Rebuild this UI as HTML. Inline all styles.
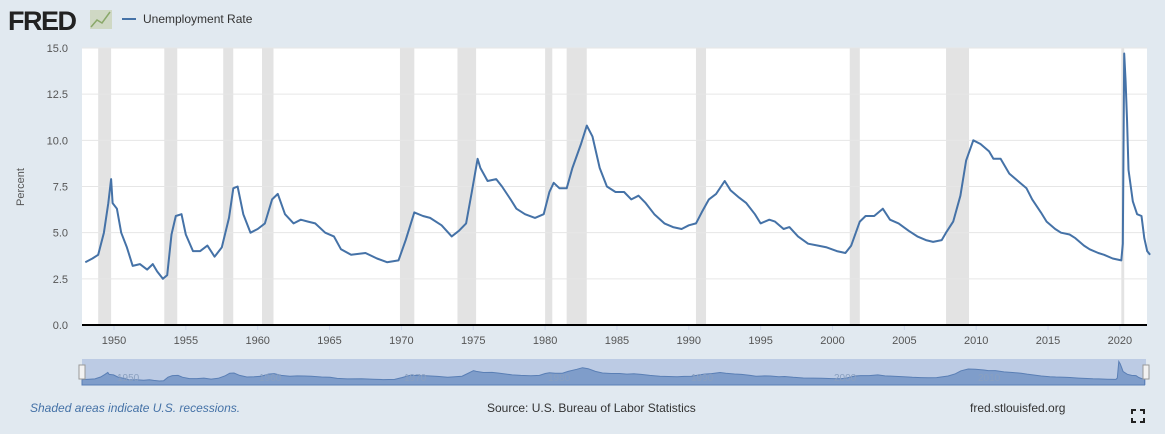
<!DOCTYPE html>
<html><head><meta charset="utf-8">
<style>
body{margin:0;width:1165px;height:434px;background:#e1e9f0;font-family:"Liberation Sans",sans-serif;overflow:hidden}
svg{display:block}
</style></head>
<body>
<svg id="c" width="1165" height="434">
<text x="8" y="30" font-size="27" font-weight="bold" fill="#222" letter-spacing="-1.5">FRED</text>
<g><rect x="90" y="10" width="22" height="19" fill="#cfd8c4"/><polyline points="91,27 97,20 102,23 110,12" fill="none" stroke="#8aa86a" stroke-width="1.5"/></g>
<line x1="122" y1="19" x2="136" y2="19" stroke="#4572a7" stroke-width="2"/>
<text x="143" y="23" font-size="12" fill="#333">Unemployment Rate</text>
<rect x="82" y="48" width="1065" height="277" fill="#fff"/>
<g id="rec"></g><g id="grid"></g><g id="yt"></g><g id="xt"></g>
<text x="24" y="187" font-size="11" fill="#555" transform="rotate(-90 24 187)" text-anchor="middle">Percent</text>
<path id="line" fill="none" stroke="#4572a7" stroke-width="2" stroke-linejoin="round"/>
<line x1="82" y1="325" x2="1147" y2="325" stroke="#000" stroke-width="2"/>
<rect x="82" y="359" width="1064" height="26" fill="#bccbe4"/>
<path id="nav" fill="#7f9dca" stroke="#5a7fb5" stroke-width="1"/>
<g font-size="10" fill="#8aa0c0"><text x="117" y="381">1950</text><text x="259" y="381">1960</text><text x="404" y="381">1970</text><text x="548" y="381">1980</text><text x="691" y="381">1990</text><text x="834" y="381">2000</text><text x="978" y="381">2010</text></g>
<rect x="79" y="365" width="6" height="14" fill="#f2f2f2" stroke="#999"/>
<rect x="1143" y="365" width="6" height="14" fill="#f2f2f2" stroke="#999"/>
<text x="30" y="412" font-size="12" font-style="italic" fill="#4572a7">Shaded areas indicate U.S. recessions.</text>
<text x="487" y="412" font-size="12" fill="#333">Source: U.S. Bureau of Labor Statistics</text>
<text x="970" y="412" font-size="12" fill="#333">fred.stlouisfed.org</text>
<g stroke="#222" stroke-width="2" fill="none"><path d="M1132,414v-4h4M1140,410h4v4M1144,418v4h-4M1136,422h-4v-4"/></g>
</svg>
<script>
const years=[1948.0,1948.5,1948.9,1949.3,1949.6,1949.8,1949.9,1950.2,1950.5,1950.9,1951.3,1951.8,1952.3,1952.7,1953.0,1953.4,1953.7,1954.0,1954.3,1954.7,1955.0,1955.5,1956.0,1956.5,1957.0,1957.5,1958.0,1958.3,1958.6,1959.0,1959.5,1960.0,1960.5,1961.0,1961.4,1961.9,1962.5,1963.0,1963.5,1964.0,1964.7,1965.3,1965.8,1966.5,1967.5,1968.3,1969.0,1969.8,1970.3,1970.9,1971.5,1972.0,1972.8,1973.5,1974.0,1974.5,1974.9,1975.3,1975.5,1976.0,1976.6,1977.0,1977.6,1978.0,1978.6,1979.3,1979.9,1980.3,1980.6,1981.0,1981.5,1981.9,1982.5,1982.9,1983.3,1983.8,1984.3,1984.9,1985.5,1986.0,1986.5,1987.0,1987.6,1988.3,1988.9,1989.5,1990.0,1990.5,1990.9,1991.4,1991.9,1992.5,1992.9,1993.5,1994.0,1994.6,1995.0,1995.6,1996.0,1996.6,1997.0,1997.6,1998.3,1999.0,1999.6,2000.3,2000.9,2001.3,2001.9,2002.3,2002.9,2003.5,2004.0,2004.6,2005.3,2005.9,2006.5,2007.0,2007.6,2007.9,2008.4,2008.9,2009.3,2009.8,2010.3,2010.9,2011.2,2011.7,2012.3,2012.9,2013.5,2013.9,2014.5,2014.9,2015.5,2015.9,2016.5,2016.9,2017.5,2017.9,2018.5,2018.9,2019.5,2020.1,2020.2,2020.3,2020.4,2020.5,2020.6,2020.9,2021.2,2021.5,2021.7,2021.9,2022.1];
const rates=[3.4,3.6,3.8,5.0,6.6,7.9,6.6,6.3,5.0,4.2,3.2,3.3,3.0,3.3,2.9,2.5,2.7,4.9,5.9,6.0,4.9,4.0,4.0,4.3,3.7,4.2,5.8,7.4,7.5,6.0,5.0,5.2,5.5,6.8,7.1,6.0,5.5,5.7,5.6,5.5,5.0,4.8,4.1,3.8,3.9,3.6,3.4,3.5,4.6,6.1,5.9,5.8,5.4,4.8,5.1,5.5,7.2,9.0,8.5,7.8,7.9,7.5,6.8,6.3,6.0,5.8,6.0,7.2,7.7,7.4,7.4,8.5,9.8,10.8,10.2,8.5,7.5,7.2,7.2,6.8,7.0,6.6,6.0,5.5,5.3,5.2,5.4,5.5,6.1,6.8,7.1,7.8,7.3,6.9,6.6,6.0,5.5,5.7,5.6,5.2,5.3,4.8,4.4,4.3,4.2,4.0,3.9,4.3,5.6,5.9,5.9,6.3,5.7,5.5,5.1,4.8,4.6,4.5,4.6,5.0,5.6,7.0,8.9,10.0,9.8,9.4,9.0,9.0,8.2,7.8,7.4,6.8,6.1,5.6,5.2,5.0,4.9,4.7,4.3,4.1,3.9,3.8,3.6,3.5,4.4,14.7,13.2,11.0,8.4,6.7,6.0,5.9,4.7,4.0,3.8];
const recStart=[1948.9,1953.5,1957.6,1960.3,1969.9,1973.9,1980.0,1981.5,1990.5,2001.2,2007.9,2020.1];
const recEnd=[1949.8,1954.4,1958.3,1961.1,1970.9,1975.2,1980.5,1982.9,1991.2,2001.9,2009.5,2020.3];
const yTicks=[0,2.5,5,7.5,10,12.5,15];
const xTicks=[1950,1955,1960,1965,1970,1975,1980,1985,1990,1995,2000,2005,2010,2015,2020];
const NS="http://www.w3.org/2000/svg";
const X=t=>114+(t-1950)*14.37;
const Y=v=>325-v*(277/15);
const NX=t=>82+(t-1948)*(1064/74.2);
const NY=v=>385-v*(24/15);
function mk(tag,attrs,parent){const e=document.createElementNS(NS,tag);for(const k in attrs)e.setAttribute(k,attrs[k]);document.getElementById(parent).appendChild(e);return e;}
recStart.forEach((s,i)=>{const r=mk('rect',{x:X(s),y:48,width:X(recEnd[i])-X(s),height:277,fill:'#e3e3e3'},'rec');

});
yTicks.forEach(v=>{if(v>0){const l=mk('line',{x1:82,x2:1147,y1:Y(v),y2:Y(v),stroke:'#e6e6e6'},'grid');

}
const t=mk('text',{x:68,y:Y(v)+4,'font-size':11,fill:'#555','text-anchor':'end'},'yt');t.textContent=v.toFixed(1);

});
xTicks.forEach(y=>{const t=mk('text',{x:X(y),y:344,'font-size':11,fill:'#555','text-anchor':'middle'},'xt');t.textContent=y;


const k=mk('line',{x1:X(y),x2:X(y),y1:325,y2:330,stroke:'#ccd6eb'},'xt');

});
document.getElementById('line').setAttribute('d',years.map((t,i)=>(i?'L':'M')+X(t).toFixed(1)+','+Y(rates[i]).toFixed(1)).join(''));
document.getElementById('nav').setAttribute('d','M'+NX(years[0])+',385'+years.map((t,i)=>'L'+NX(t).toFixed(1)+','+NY(rates[i]).toFixed(1)).join('')+'L'+NX(years[years.length-1])+',385Z');
</script>
</body></html>
